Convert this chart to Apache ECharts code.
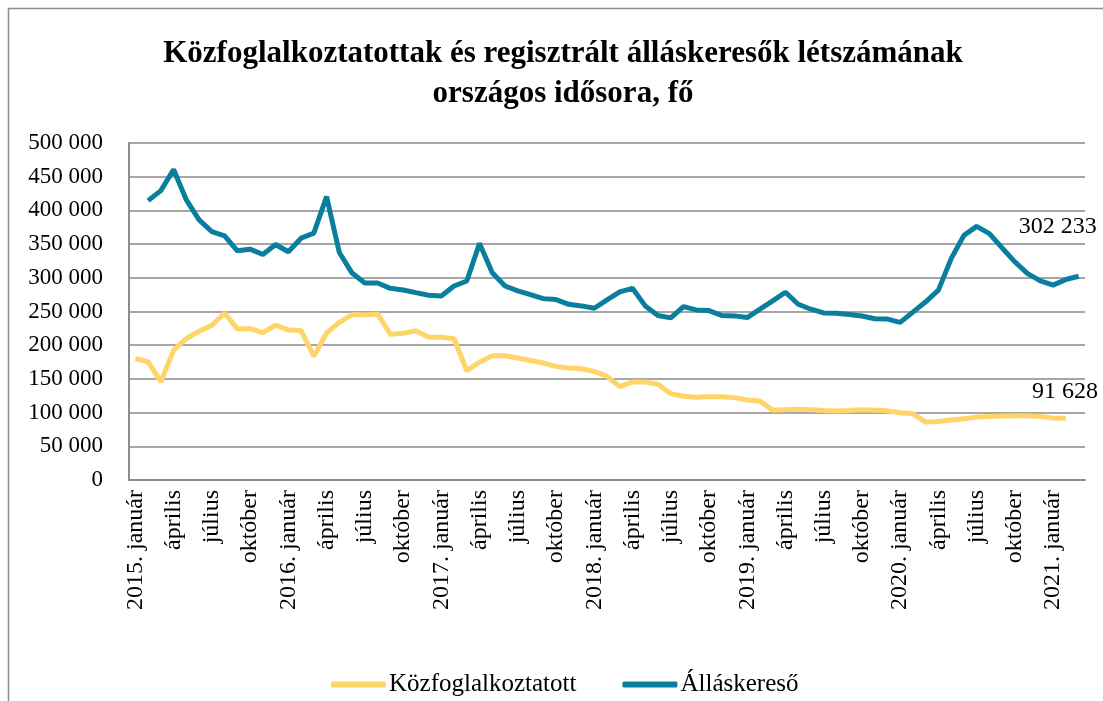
<!DOCTYPE html>
<html>
<head>
<meta charset="utf-8">
<script src="https://cdn.jsdelivr.net/npm/echarts@6/dist/echarts.min.js"></script>
<style>
  html, body { margin: 0; padding: 0; background: #fff; }
  #chart { width: 1103px; height: 701px; }
</style>
</head>
<body>
<div id="chart"></div>
<script>
// hónapnevek
const monthNames = ['január', 'február', 'március', 'április', 'május', 'június',
  'július', 'augusztus', 'szeptember', 'október', 'november', 'december']
const years = [2015, 2016, 2017, 2018, 2019, 2020, 2021]

// kategóriák: 2015. január - 2021. március
const categories = []
years.forEach(y => {
  monthNames.forEach((m, i) => {
    if (y === 2021 && i > 2) return
    categories.push(i === 0 ? y + '. ' + m : m)
  })
})

// Közfoglalkoztatott (2015. jan - 2021. feb)
const kozfoglalkoztatott = [
  180300, 175300, 145700, 192600, 209900, 220700, 229600, 247800, 224200, 224700, 218700, 229600,
  222700, 221700, 183700, 218200, 234000, 245400, 244900, 246400, 216400, 217800, 221300, 211900,
  211900, 209500, 162100, 175000, 184300, 184300, 180900, 177400, 173500, 168500, 166100, 165100,
  161100, 153700, 138500, 145400, 145400, 142000, 128100, 124200, 122700, 123700, 123700, 122200,
  118700, 117300, 103500, 104400, 104900, 104400, 103000, 102500, 103000, 104200, 103600, 102600,
  99700, 98200, 85900, 86900, 88900, 90800, 93300, 94300, 94800, 95300, 95300, 94300,
  91800, 91628, null
]

// Álláskereső (2015. feb - 2021. márc)
const allaskereso = [
  null, 414500, 429300, 460800, 415500, 385900, 368600, 362200, 340000, 342500, 334600, 349400,
  338600, 358800, 366200, 420400, 337600, 307000, 292200, 292200, 284400, 282000, 278000, 274100,
  273100, 287900, 295300, 351000, 307600, 287900, 280500, 275000, 269100, 267700, 260700, 258300,
  254800, 267200, 279000, 284400, 258300, 244000, 240500, 257300, 252400, 251400, 244000, 243500,
  241000, 253400, 265700, 278500, 260700, 253400, 247900, 247400, 245500, 243300, 239300, 238800,
  233800, 249100, 264400, 281700, 328500, 363000, 376300, 365500, 344300, 323600, 306300, 295500,
  289100, 297500, 302233
]

const yTicks = { min: 0, max: 500000, interval: 50000 }

const fmt = v => String(v).replace(/\B(?=(\d{3})+(?!\d))/g, ' ')
const serif = '"Liberation Serif", "Times New Roman", serif'

// utolsó pont felirata
const withLastLabel = (arr, offset) => {
  let last = -1
  arr.forEach((v, i) => { if (v != null) last = i })
  return arr.map((v, i) => i === last ? {
    value: v,
    label: {
      show: true,
      position: 'top',
      offset: offset,
      formatter: p => fmt(p.value),
      color: '#000',
      fontFamily: serif,
      fontSize: 24
    }
  } : v)
}

const chart = echarts.init(document.getElementById('chart'), null, { renderer: 'canvas' })
chart.setOption({
  animation: false,
  backgroundColor: '#fff',
  graphic: [{
    type: 'rect',
    shape: { x: 8.5, y: 8.5, width: 1200, height: 800 },
    style: { fill: 'none', stroke: '#8c8c8c', lineWidth: 1.5 },
    silent: true
  }],
  title: {
    text: 'Közfoglalkoztatottak és regisztrált álláskeresők létszámának\nországos idősora, fő',
    left: 563,
    top: 34,
    padding: 0,
    textAlign: 'center',
    textStyle: {
      fontFamily: serif,
      fontWeight: 'bold',
      fontSize: 31,
      lineHeight: 40,
      color: '#000'
    }
  },
  legend: {
    left: 326,
    top: 667,
    itemWidth: 55,
    itemHeight: 6,
    itemGap: 46,
    icon: 'roundRect',
    textStyle: { fontFamily: serif, fontSize: 25, color: '#000', padding: [0, 0, 0, -2] },
    data: ['Közfoglalkoztatott', 'Álláskereső']
  },
  grid: {
    left: 129,
    right: 18,
    top: 143,
    bottom: 221,
    containLabel: false
  },
  xAxis: {
    type: 'category',
    data: categories,
    boundaryGap: true,
    axisLine: { lineStyle: { color: '#8c8c8c', width: 2 } },
    axisTick: { show: false },
    axisLabel: {
      interval: 2,
      rotate: 90,
      margin: 10,
      fontFamily: serif,
      fontSize: 24,
      color: '#000'
    }
  },
  yAxis: {
    type: 'value',
    min: yTicks.min,
    max: yTicks.max,
    interval: yTicks.interval,
    axisLine: { show: true, lineStyle: { color: '#8c8c8c', width: 2 } },
    axisTick: { show: false },
    splitLine: { lineStyle: { color: '#a6a6a6', width: 2 } },
    axisLabel: {
      formatter: v => fmt(v),
      margin: 26,
      fontFamily: serif,
      fontSize: 23,
      color: '#000'
    }
  },
  series: [
    {
      name: 'Közfoglalkoztatott',
      type: 'line',
      data: withLastLabel(kozfoglalkoztatott, [-1, -10]),
      symbol: 'circle',
      symbolSize: 0,
      showSymbol: true,
      showAllSymbol: true,
      color: '#ffd469',
      lineStyle: { width: 5, color: '#ffd469' },
      z: 2
    },
    {
      name: 'Álláskereső',
      type: 'line',
      data: withLastLabel(allaskereso, [-21, -33]),
      symbol: 'circle',
      symbolSize: 0,
      showSymbol: true,
      showAllSymbol: true,
      color: '#0a7f9d',
      lineStyle: { width: 5, color: '#0a7f9d' },
      z: 3
    }
  ]
})
</script>
</body>
</html>
